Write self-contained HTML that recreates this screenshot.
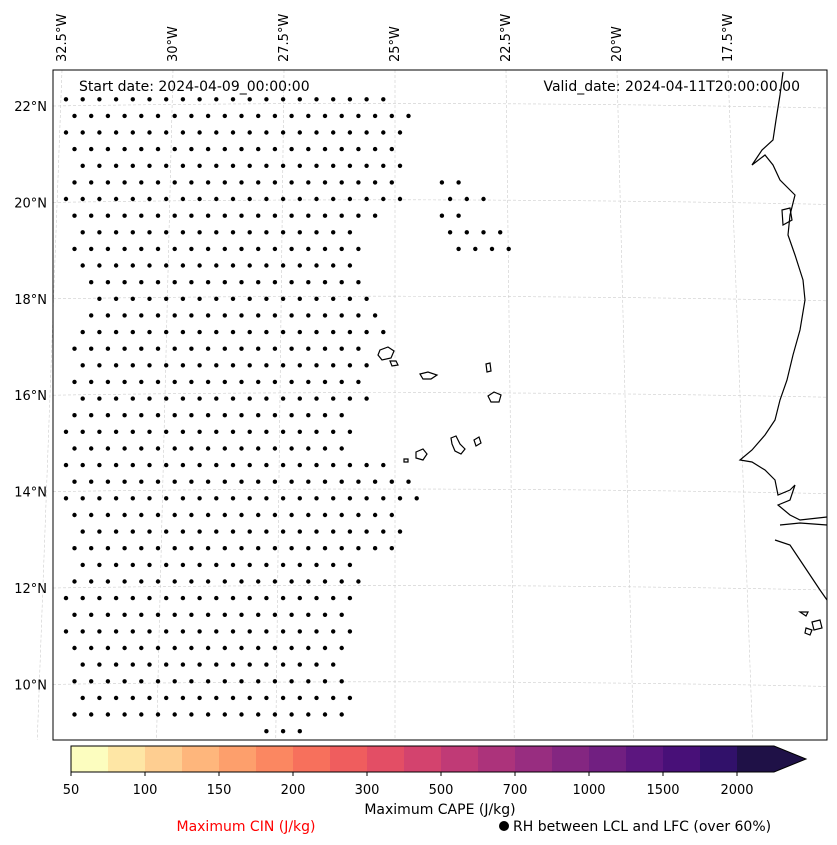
<!DOCTYPE html>
<html><head><meta charset="utf-8"><style>
body{margin:0;background:#fff;font-family:"DejaVu Sans","Liberation Sans",sans-serif}
svg{display:block;font-family:"DejaVu Sans","Liberation Sans",sans-serif}
</style></head><body>
<svg id="chart" width="837" height="845" xmlns="http://www.w3.org/2000/svg">
<g id="grid"></g>
<g id="dots"></g>
<g fill="none" stroke="#000" stroke-width="1.2">
<path d="M783,72 L780,95 L776,120 L773,140 L762,150 L752,165 L765,155 L773,165 L780,180 L795,195 L790,215 L788,235 L795,255 L803,280 L805,300 L800,330 L793,355 L787,380 L780,400 L775,420 L765,435 L752,450 L740,460 L752,462 L765,470 L775,480 L778,495 L790,490 L795,485 L790,500 L778,505 L790,515 L800,520 L827,517"/>
<path d="M780,525 L800,523 L827,525"/>
<path d="M775,540 L790,545 L800,560 L810,575 L820,590 L827,600"/>
<path d="M782,210 L790,208 L792,220 L783,225 Z"/>
<path d="M800,612 l8,0 l-2,4 z M812,622 l8,-2 l2,8 l-8,2 z M806,628 l6,2 l-2,5 l-5,-2 z"/>
<path d="M380,350 l8,-3 l6,4 l-3,7 l-9,2 l-4,-5 z"/>
<path d="M390,361 l6,0 l2,4 l-6,1 z"/>
<path d="M420,374 l8,-2 l9,3 l-6,4 l-8,0 z"/>
<path d="M486,364 l4,-1 l1,8 l-4,1 z"/>
<path d="M488,396 l6,-4 l7,3 l-2,7 l-8,0 z"/>
<path d="M451,438 l5,-2 l4,8 l5,5 l-4,5 l-6,-3 l-3,-7 z"/>
<path d="M474,440 l5,-3 l2,6 l-5,3 z"/>
<path d="M416,452 l7,-3 l4,5 l-4,6 l-7,-2 z"/>
<path d="M404,459 l4,0 l0,3 l-4,0 z"/>
</g>
<rect x="53" y="70" width="774" height="670" fill="none" stroke="#000" stroke-width="1"/>
<text x="79" y="91" font-size="14">Start date: 2024-04-09_00:00:00</text>
<text x="800" y="91" font-size="14" text-anchor="end">Valid_date: 2024-04-11T20:00:00.00</text>
<g id="toplabels"></g>
<g id="leftlabels"></g>
<g id="cbar"></g>
<text x="440" y="814" font-size="14" text-anchor="middle">Maximum CAPE (J/kg)</text>
<text x="246" y="831" font-size="14" text-anchor="middle" fill="#ff0000">Maximum CIN (J/kg)</text>
<circle cx="504" cy="826" r="5" fill="#000"/>
<text x="513" y="831" font-size="14">RH between LCL and LFC (over 60%)</text>
</svg>
<script>
const NS="http://www.w3.org/2000/svg";
const lonTicks=[-32.5,-30,-27.5,-25,-22.5,-20,-17.5];
const latTicks=[22,20,18,16,14,12,10];
const rowLat=[];for(let i=0;i<39;i++)rowLat.push(22.14-i*0.345);
const rowMinLon=[-32.4,-32.2,-32.4,-32.6,-32.0,-32.6,-32.6,-32.6,-32.0,-32.6,-32.0,-31.8,-31.8,-32.0,-32.0,-32.2,-32.2,-32.2,-32.2,-32.2,-32.4,-32.4,-32.4,-32.2,-32.4,-32.6,-32.2,-32.2,-32.2,-32.4,-32.6,-32.6,-32.4,-32.6,-32.0,-32.4,-32.2,-32.4,-28.2];
const rowMaxLon=[-25.3,-24.4,-24.6,-24.9,-24.9,-24.9,-24.9,-25.3,-25.7,-25.5,-25.7,-25.5,-25.5,-25.3,-25.3,-25.5,-25.5,-25.7,-25.5,-25.9,-25.7,-26.1,-25.3,-24.6,-24.4,-24.8,-24.8,-25.1,-25.7,-25.7,-25.7,-25.9,-25.9,-26.1,-26.1,-25.9,-25.9,-25.9,-27.1];
const extraMin=[null,null,null,null,null,-24.0,-23.8,-24.2,-24.0,-23.8];
const extraMax=[null,null,null,null,null,-23.3,-22.8,-23.3,-22.6,-22.4];
const cbLevels=["50","75","100","125","150","175","200","250","300","400","500","600","700","850","1000","1250","1500","1750","2000"];
const cbTickLabels=["50","100","150","200","300","500","700","1000","1500","2000"];
const cbColors=["#fcfdbf","#fee6a5","#fece91","#feb67c","#fd9f6c","#fb8761","#f7705c","#ef5d5e","#e34e65","#d3436e","#c03a76","#ac337b","#982d80","#842681","#711f81","#5c167f","#481078","#31116a","#1f1147"];
function X(lon){return 395+(lon+25)*44.4;}
function GX(lon,y){return X(lon)+3.3*(lon+25)*(y-70)/670;}
function Y(lat){return 106+(22-lat)*48.2;}
const grid=document.getElementById('grid');
lonTicks.forEach(lon=>{const l=document.createElementNS(NS,'line');
l.setAttribute('x1',GX(lon,70));l.setAttribute('y1',70);l.setAttribute('x2',GX(lon,740));l.setAttribute('y2',740);
l.setAttribute('stroke','#ccc');l.setAttribute('stroke-width','0.6');l.setAttribute('stroke-dasharray','3,2');


grid.appendChild(l);});
latTicks.forEach(lat=>{const p=document.createElementNS(NS,'path');const y=Y(lat);
p.setAttribute('d',`M53,${y} Q440,${y-6} 827,${y+2}`);p.setAttribute('fill','none');
p.setAttribute('stroke','#ccc');p.setAttribute('stroke-width','0.6');p.setAttribute('stroke-dasharray','3,2');


grid.appendChild(p);});
const tl=document.getElementById('toplabels');
lonTicks.forEach(lon=>{const t=document.createElementNS(NS,'text');const x=X(lon)+4;
t.setAttribute('transform',`translate(${x},62) rotate(-90)`);t.setAttribute('font-size','13');
t.textContent=Math.abs(lon)+'°W';


tl.appendChild(t);});
const ll=document.getElementById('leftlabels');
latTicks.forEach(lat=>{const t=document.createElementNS(NS,'text');
t.setAttribute('x',47);t.setAttribute('y',Y(lat)+5);t.setAttribute('text-anchor','end');t.setAttribute('font-size','13');
t.textContent=lat+'°N';


ll.appendChild(t);});
const dots=document.getElementById('dots');
const step=16.7;
function drawRange(i,a,b){const y=Y(rowLat[i]);const phase=(i%2===0)?66:74.5;
const xa=X(a),xb=X(b);
for(let x=phase;x<=840;x+=step){if(x>=xa-2&&x<=xb+2){const c=document.createElementNS(NS,'circle');
c.setAttribute('cx',x.toFixed(1));c.setAttribute('cy',y.toFixed(1));c.setAttribute('r','2.2');c.setAttribute('fill','#000');


dots.appendChild(c);}}}
rowLat.forEach((lat,i)=>{drawRange(i,rowMinLon[i],rowMaxLon[i]);if(extraMin[i]!=null)drawRange(i,extraMin[i],extraMax[i]);});
const cb=document.getElementById('cbar');const x0=71,w=37,yT=746,h=26;
cbColors.forEach((c,i)=>{const r=document.createElementNS(NS,'rect');
r.setAttribute('x',x0+i*w);r.setAttribute('y',yT);r.setAttribute('width',w+0.5);r.setAttribute('height',h);r.setAttribute('fill',c);


cb.appendChild(r);});
const xe=x0+cbColors.length*w;
const tri=document.createElementNS(NS,'path');
tri.setAttribute('d',`M${xe},${yT} L${xe+32},${yT+h/2} L${xe},${yT+h} Z`);tri.setAttribute('fill',cbColors[cbColors.length-1]);


cb.appendChild(tri);
const ol=document.createElementNS(NS,'path');
ol.setAttribute('d',`M${x0},${yT} L${xe},${yT} L${xe+32},${yT+h/2} L${xe},${yT+h} L${x0},${yT+h} Z`);
ol.setAttribute('fill','none');ol.setAttribute('stroke','#000');ol.setAttribute('stroke-width','1');


cb.appendChild(ol);
cbTickLabels.forEach(v=>{const i=cbLevels.indexOf(v);const x=x0+i*w;
const l=document.createElementNS(NS,'line');l.setAttribute('x1',x);l.setAttribute('x2',x);l.setAttribute('y1',yT+h);l.setAttribute('y2',yT+h+4);l.setAttribute('stroke','#000');


cb.appendChild(l);
const t=document.createElementNS(NS,'text');t.setAttribute('x',x);t.setAttribute('y',794);t.setAttribute('text-anchor','middle');t.setAttribute('font-size','13');t.textContent=v;


cb.appendChild(t);});
</script>
</body></html>
